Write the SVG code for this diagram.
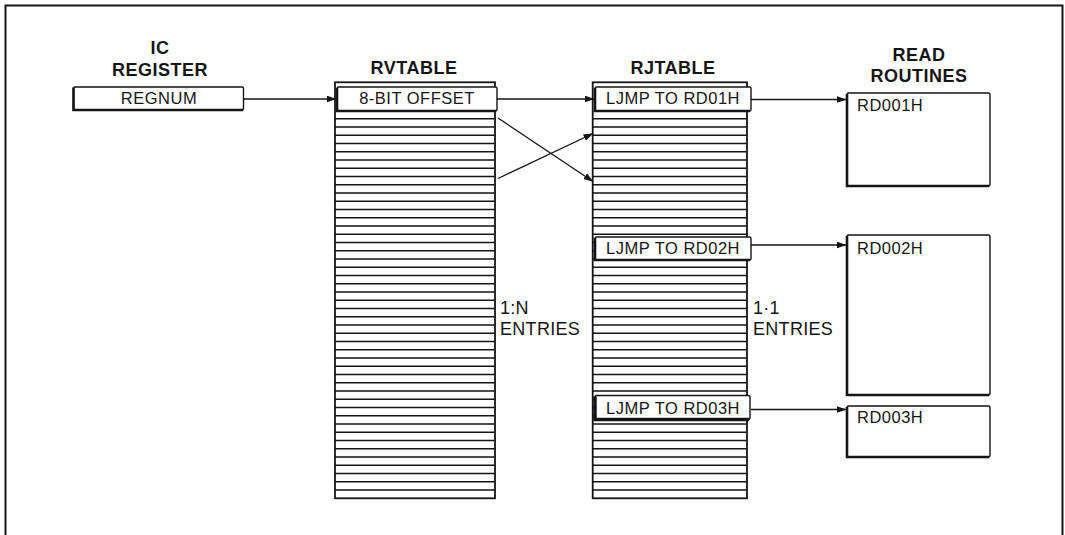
<svg xmlns="http://www.w3.org/2000/svg" width="1065" height="535" viewBox="0 0 1065 535">
  <style>
    .title { font-family: "Liberation Sans", Arial, sans-serif; font-weight: bold; font-size: 18px; letter-spacing: 0.5px; fill: #151515; text-anchor: middle; }
    .lbl { font-family: "Liberation Sans", Arial, sans-serif; font-size: 16.5px; letter-spacing: 0.5px; fill: #151515; }
    .mid { text-anchor: middle; }
    .note { font-family: "Liberation Sans", Arial, sans-serif; font-size: 18px; letter-spacing: 0.3px; fill: #151515; }
    .box { fill: #fff; stroke: #151515; stroke-width: 1.4; }
    .shadow { fill: none; stroke: #151515; stroke-width: 2.6; }
    .tbl { fill: #fff; stroke: #151515; stroke-width: 1.8; }
    .rows { fill: none; stroke: #151515; stroke-width: 1.5; }
    .conn { fill: none; stroke: #151515; stroke-width: 1.3; marker-end: url(#arr); }
    .frame { fill: none; stroke: #151515; stroke-width: 2; }
  </style>
  <defs>
    <marker id="arr" markerWidth="10" markerHeight="7" refX="9.5" refY="3.5" orient="auto" markerUnits="userSpaceOnUse">
      <path d="M0,0 L10,3.5 L0,7 Z" fill="#151515"/>
    </marker>
  </defs>

  <path class="frame" d="M5.5 535 V5.5 H1062.5 V535"/>

  <g id="ic-register">
    <text class="title" x="160" y="53.5">IC</text>
    <text class="title" x="160" y="75.5">REGISTER</text>
    <rect class="box" x="73.5" y="87" width="170" height="23" rx="1.5"/>
    <path class="shadow" d="M73.5 87.5 V110 H243"/>
    <text class="lbl mid" x="159" y="103.5">REGNUM</text>
  </g>

  <g id="rvtable">
    <text class="title" x="414" y="73.5">RVTABLE</text>
    <rect class="tbl" x="335" y="82.3" width="160" height="416"/>
    <path class="rows" d="M335 118.8H495M335 127.05H495M335 135.3H495M335 143.55H495M335 151.8H495M335 160.05H495M335 168.3H495M335 176.55H495M335 184.8H495M335 193.05H495M335 201.3H495M335 209.55H495M335 217.8H495M335 226.05H495M335 234.3H495M335 242.55H495M335 250.8H495M335 259.05H495M335 267.3H495M335 275.55H495M335 283.8H495M335 292.05H495M335 300.3H495M335 308.55H495M335 316.8H495M335 325.05H495M335 333.3H495M335 341.55H495M335 349.8H495M335 358.05H495M335 366.3H495M335 374.55H495M335 382.8H495M335 391.05H495M335 399.3H495M335 407.55H495M335 415.8H495M335 424.05H495M335 432.3H495M335 440.55H495M335 448.8H495M335 457.05H495M335 465.3H495M335 473.55H495M335 481.8H495M335 490.05H495"/>
    <rect class="box" x="337" y="87" width="160" height="24" rx="1.5"/>
    <path class="shadow" d="M337 88 V111 H496"/>
    <text class="lbl mid" x="417" y="103.5">8-BIT OFFSET</text>
    <text class="note" x="500" y="313.5">1:N</text>
    <text class="note" x="500" y="335">ENTRIES</text>
  </g>

  <g id="rjtable">
    <text class="title" x="673" y="73.5">RJTABLE</text>
    <rect class="tbl" x="592.7" y="82.3" width="154.3" height="416"/>
    <path class="rows" d="M592.7 118.8H747M592.7 127.05H747M592.7 135.3H747M592.7 143.55H747M592.7 151.8H747M592.7 160.05H747M592.7 168.3H747M592.7 176.55H747M592.7 184.8H747M592.7 193.05H747M592.7 201.3H747M592.7 209.55H747M592.7 217.8H747M592.7 226.05H747M592.7 234.3H747M592.7 242.55H747M592.7 250.8H747M592.7 259.05H747M592.7 267.3H747M592.7 275.55H747M592.7 283.8H747M592.7 292.05H747M592.7 300.3H747M592.7 308.55H747M592.7 316.8H747M592.7 325.05H747M592.7 333.3H747M592.7 341.55H747M592.7 349.8H747M592.7 358.05H747M592.7 366.3H747M592.7 374.55H747M592.7 382.8H747M592.7 391.05H747M592.7 399.3H747M592.7 407.55H747M592.7 415.8H747M592.7 424.05H747M592.7 432.3H747M592.7 440.55H747M592.7 448.8H747M592.7 457.05H747M592.7 465.3H747M592.7 473.55H747M592.7 481.8H747M592.7 490.05H747"/>
    <rect class="box" x="595" y="87" width="156" height="24" rx="1.5"/>
    <path class="shadow" d="M595 88 V111 H750"/>
    <text class="lbl mid" x="673" y="103.5">LJMP TO RD01H</text>
    <rect class="box" x="595" y="237" width="156" height="23" rx="1.5"/>
    <path class="shadow" d="M595 238 V260 H750"/>
    <text class="lbl mid" x="673" y="254">LJMP TO RD02H</text>
    <rect class="box" x="595" y="395.5" width="155" height="24" rx="1.5"/>
    <path class="shadow" d="M595 396.5 V419.5 H749" style="stroke-width:3.5"/>
    <text class="lbl mid" x="673" y="413.5">LJMP TO RD03H</text>
    <text class="note" x="753" y="313.5">1·1</text>
    <text class="note" x="753" y="335">ENTRIES</text>
  </g>

  <g id="read-routines">
    <text class="title" x="919" y="61">READ</text>
    <text class="title" x="919" y="81.5">ROUTINES</text>
  </g>
  <g id="rd001h">
    <rect class="box" x="847" y="93" width="143" height="93" rx="1.5"/>
    <path class="shadow" d="M847 94 V186 H989"/>
    <text class="lbl" x="857" y="111">RD001H</text>
  </g>
  <g id="rd002h">
    <rect class="box" x="847" y="235" width="143" height="160" rx="1.5"/>
    <path class="shadow" d="M847 236 V395 H989"/>
    <text class="lbl" x="857" y="253.5">RD002H</text>
  </g>
  <g id="rd003h">
    <rect class="box" x="847" y="406" width="143" height="51" rx="1.5"/>
    <path class="shadow" d="M847 407 V457 H989"/>
    <text class="lbl" x="857" y="423">RD003H</text>
  </g>

  <g id="connectors">
    <path class="conn" d="M244 99 H336"/>
    <path class="conn" d="M497 99 H594"/>
    <path class="conn" d="M751 99.5 H846"/>
    <path class="conn" d="M498 118 L593 181.5"/>
    <path class="conn" d="M498 178.5 L593 133.5"/>
    <path class="conn" d="M751 245 H846"/>
    <path class="conn" d="M751 409.5 H846"/>
  </g>
</svg>
